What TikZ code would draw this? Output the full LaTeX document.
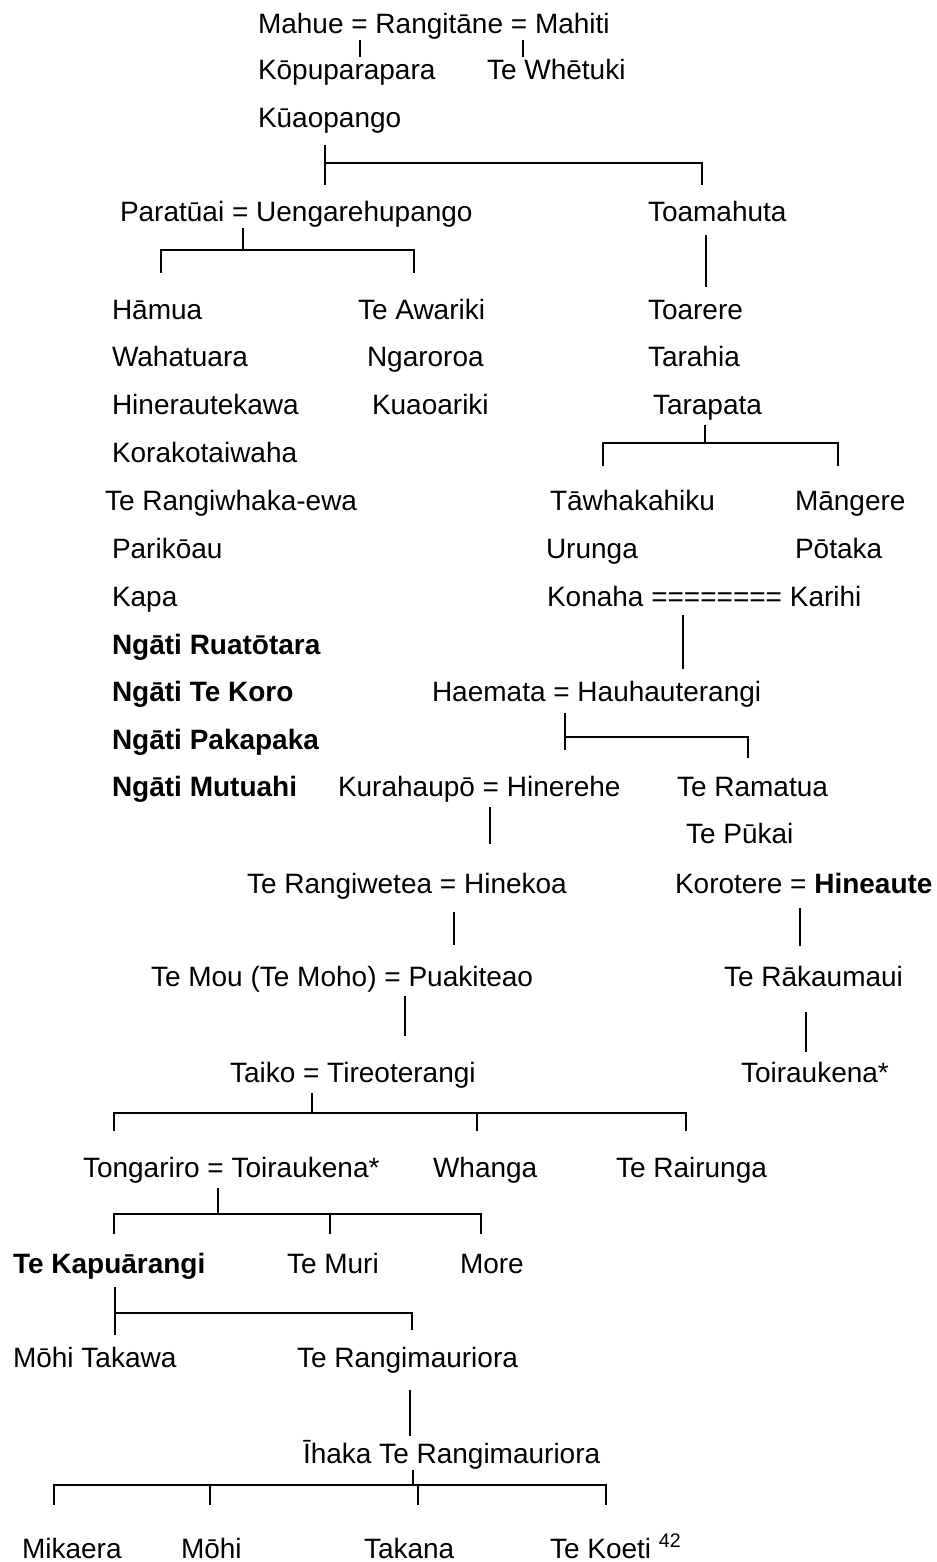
\documentclass[tikz,border=0pt]{standalone}
\usepackage{fontspec}
\setmainfont{Liberation Sans}
\begin{document}
\begin{tikzpicture}[x=0.75pt,y=-0.75pt,
  t/.style={anchor=base west,inner sep=0pt,outer sep=0pt,font=\fontsize{21}{25}\selectfont},
  tb/.style={t,font=\fontsize{21}{25}\selectfont\bfseries},
  ln/.style={line width=1.2pt}]
\useasboundingbox[fill=white] (0,0) rectangle (936,1562);
% row texts
\node[t] (mahue) at (258,34) {Mahue = Rangitāne = Mahiti};
\node[t] (kopu) at (258,80) {Kōpuparapara};
\node[t] (whetuki) at (487,80) {Te Whētuki};
\node[t] (kuao) at (258,128) {Kūaopango};
\node[t] (paratuai) at (120,222) {Paratūai = Uengarehupango};
\node[t] (toamahuta) at (648,222) {Toamahuta};
\node[t] (hamua) at (112,319) {Hāmua};
\node[t] (awariki) at (358,319) {Te Awariki};
\node[t] (toarere) at (648,319) {Toarere};
\node[t] (wahatuara) at (112,366) {Wahatuara};
\node[t] (ngaroroa) at (367,366) {Ngaroroa};
\node[t] (tarahia) at (648,366) {Tarahia};
\node[t] (hinerau) at (112,414) {Hinerautekawa};
\node[t] (kuaoariki) at (372,414) {Kuaoariki};
\node[t] (tarapata) at (653,414) {Tarapata};
\node[t] (korako) at (112,462) {Korakotaiwaha};
\node[t] (rangiwhaka) at (105,510) {Te Rangiwhaka-ewa};
\node[t] (tawhaka) at (550,510) {Tāwhakahiku};
\node[t] (mangere) at (795,510) {Māngere};
\node[t] (parikoau) at (112,558) {Parikōau};
\node[t] (urunga) at (546,558) {Urunga};
\node[t] (potaka) at (795,558) {Pōtaka};
\node[t] (kapa) at (112,606) {Kapa};
\node[t] (konaha) at (547,606) {Konaha ======== Karihi};
\node[tb] (ruatotara) at (112,654) {Ngāti Ruatōtara};
\node[tb] (tekoro) at (112,701) {Ngāti Te Koro};
\node[t] (haemata) at (432,701) {Haemata = Hauhauterangi};
\node[tb] (pakapaka) at (112,749) {Ngāti Pakapaka};
\node[tb] (mutuahi) at (112,796) {Ngāti Mutuahi};
\node[t] (kurahaupo) at (338,796) {Kurahaupō = Hinerehe};
\node[t] (ramatua) at (677,796) {Te Ramatua};
\node[t] (pukai) at (686,843) {Te Pūkai};
\node[t] (rangiwetea) at (247,893) {Te Rangiwetea = Hinekoa};
\node[t] (korotere) at (675,893) {Korotere = \textbf{Hineaute}};
\node[t] (temou) at (151,986) {Te Mou (Te Moho) = Puakiteao};
\node[t] (rakaumaui) at (724,986) {Te Rākaumaui};
\node[t] (taiko) at (230,1082) {Taiko = Tireoterangi};
\node[t] (toirau) at (741,1082) {Toiraukena*};
\node[t] (tongariro) at (83,1177) {Tongariro = Toiraukena*};
\node[t] (whanga) at (433,1177) {Whanga};
\node[t] (rairunga) at (616,1177) {Te Rairunga};
\node[tb] (kapuarangi) at (13,1273) {Te Kapuārangi};
\node[t] (temuri) at (287,1273) {Te Muri};
\node[t] (more) at (460,1273) {More};
\node[t] (mohitakawa) at (13,1367) {Mōhi Takawa};
\node[t] (rangimau) at (297,1367) {Te Rangimauriora};
\node[t] (ihaka) at (303,1463) {Īhaka Te Rangimauriora};
\node[t] (mikaera) at (22,1558) {Mikaera};
\node[t] (mohi) at (181,1558) {Mōhi};
\node[t] (takana) at (364,1558) {Takana};
\node[t] (koeti) at (550,1558) {Te Koeti \textsuperscript{42}};
% connectors
\draw[ln] (360,40) -- (360,57);
\draw[ln] (523,40) -- (523,57);
\draw[ln] (325,145) -- (325,185);
\draw[ln] (325,163) -- (702,163) -- (702,185);
\draw[ln] (243,228) -- (243,250);
\draw[ln] (161,273) -- (161,250) -- (414,250) -- (414,273);
\draw[ln] (706,235) -- (706,287);
\draw[ln] (705,425) -- (705,443);
\draw[ln] (603,466) -- (603,443) -- (838,443) -- (838,466);
\draw[ln] (683,615) -- (683,669);
\draw[ln] (565,713) -- (565,750);
\draw[ln] (565,737) -- (748,737) -- (748,758);
\draw[ln] (490,807) -- (490,844);
\draw[ln] (454,912) -- (454,945);
\draw[ln] (800,908) -- (800,946);
\draw[ln] (405,996) -- (405,1036);
\draw[ln] (806,1012) -- (806,1052);
\draw[ln] (312,1093) -- (312,1113);
\draw[ln] (114,1131) -- (114,1113) -- (686,1113) -- (686,1131);
\draw[ln] (477,1113) -- (477,1131);
\draw[ln] (218,1188) -- (218,1214);
\draw[ln] (114,1234) -- (114,1214) -- (481,1214) -- (481,1234);
\draw[ln] (330,1214) -- (330,1234);
\draw[ln] (115,1287) -- (115,1335);
\draw[ln] (115,1313) -- (412,1313) -- (412,1330);
\draw[ln] (410,1390) -- (410,1436);
\draw[ln] (413,1470) -- (413,1485);
\draw[ln] (54,1505) -- (54,1485) -- (606,1485) -- (606,1505);
\draw[ln] (210,1485) -- (210,1505);
\draw[ln] (418,1485) -- (418,1505);
\end{tikzpicture}
\end{document}
